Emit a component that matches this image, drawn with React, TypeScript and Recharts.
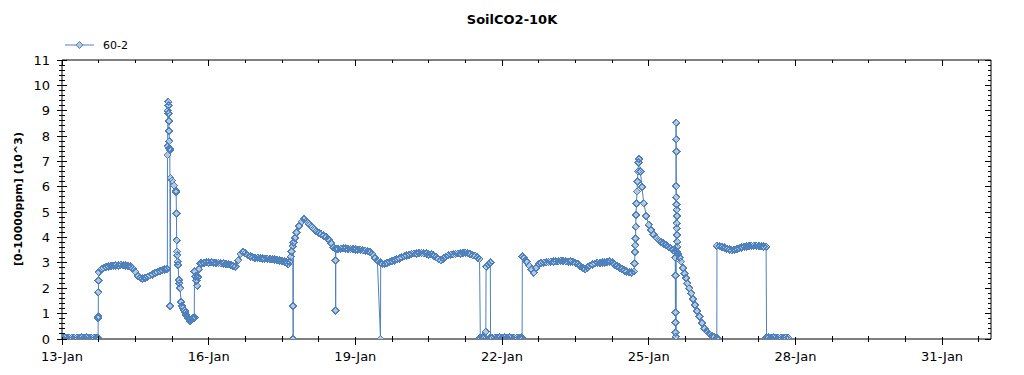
import { LineChart, Line, XAxis, YAxis } from "recharts";

// time axis: day offsets counted from 13-Jan 00:00; the logger samples every STEP day
const STEP = 0.05;

const seriesName = "60-2";
const chartTitle = "SoilCO2-10K";
const yTitle = "[0-10000ppm] (10^3)";
const dateLabels = ["13-Jan", "16-Jan", "19-Jan", "22-Jan", "25-Jan", "28-Jan", "31-Jan"];
const yLabels = ["0", "1", "2", "3", "4", "5", "6", "7", "8", "9", "10", "11"];

// regular runs: values every STEP starting at the given day
const offJan13 = [0.05, 0.05, 0.05, 0.05, 0.05, 0.05, 0.05, 0.05, 0.05, 0.05, 0.05, 0.05, 0.05, 0.05, 0.05];
const runJan13 = [
  2.75, 2.8, 2.83, 2.85, 2.87, 2.88, 2.9, 2.9, 2.92, 2.9, 2.9, 2.88, 2.85, 2.78, 2.65, 2.5, 2.42, 2.38, 2.4, 2.45,
  2.5, 2.55, 2.6, 2.64, 2.68, 2.71, 2.74, 2.76,
];
const runJan15 = [
  2.98, 3.0, 3.02, 3.02, 3.02, 3.0, 3.0, 3.0, 2.98, 2.98, 2.96, 2.95, 2.92, 2.88, 2.86, 3.1, 3.35, 3.42, 3.38, 3.3,
  3.25, 3.22, 3.2, 3.2, 3.18, 3.18, 3.17, 3.16, 3.15, 3.14, 3.13, 3.12, 3.1, 3.08, 3.05, 3.02,
];
const runJan18 = [3.55, 3.56, 3.57, 3.56, 3.55, 3.55, 3.54, 3.53, 3.52, 3.52, 3.5, 3.48, 3.46, 3.44, 3.35, 3.2, 3.08];
const runJan19 = [
  2.97, 2.96, 3.0, 3.04, 3.08, 3.1, 3.14, 3.18, 3.22, 3.26, 3.29, 3.32, 3.35, 3.37, 3.38, 3.39, 3.39, 3.38, 3.37, 3.33,
  3.34, 3.3, 3.22, 3.15, 3.1, 3.18, 3.25, 3.3, 3.32, 3.34, 3.35, 3.37, 3.38, 3.4, 3.4, 3.38, 3.35, 3.3, 3.28, 3.22,
];
const offJan21 = [0.05, 0.05, 0.05, 0.05, 0.05, 0.05, 0.05, 0.05, 0.05, 0.05, 0.05, 0.05, 0.05];
const runJan22 = [
  3.2, 3.05, 2.9, 2.75, 2.62, 2.8, 2.95, 3.0, 3.0, 3.02, 3.03, 3.05, 3.05, 3.06, 3.07, 3.08, 3.08, 3.07, 3.05, 3.06,
  3.05, 3.0, 2.95, 2.88, 2.8, 2.75, 2.82, 2.9, 2.95, 2.98, 3.0, 3.0, 3.02, 3.02, 3.03, 3.05, 3.02, 2.95, 2.88, 2.82,
  2.76, 2.7, 2.66, 2.63, 2.62,
];
const runJan26 = [3.66, 3.62, 3.6, 3.56, 3.52, 3.5, 3.52, 3.55, 3.58, 3.6, 3.64, 3.66, 3.66, 3.67, 3.68, 3.68, 3.67, 3.66, 3.65, 3.64];
const offJan27 = [0.05, 0.05, 0.05, 0.05, 0.05, 0.05, 0.05, 0.05, 0.05];

// irregular stretches: [day, value]
const rampJan13 = [[0.73, 0.05], [0.738, 0], [0.74, 0.83], [0.742, 0.9], [0.744, 1.85], [0.746, 2.3], [0.75, 2.64]];
const spikeJan15 = [
  [2.155, 2.75], [2.157, 7.25], [2.16, 7.6], [2.165, 9.0], [2.17, 9.36], [2.175, 9.2], [2.18, 8.9], [2.185, 8.6],
  [2.19, 8.2], [2.195, 7.8], [2.2, 7.5], [2.205, 7.45], [2.215, 1.3], [2.22, 6.35], [2.25, 6.25], [2.29, 6.05],
  [2.33, 5.85], [2.335, 5.8], [2.34, 4.95], [2.345, 3.9], [2.35, 3.45], [2.355, 3.3], [2.37, 3.05], [2.375, 2.92],
  [2.39, 2.33], [2.4, 2.2], [2.415, 2.0], [2.435, 1.45], [2.455, 1.3], [2.475, 1.2], [2.5, 1.12], [2.52, 1.05],
  [2.54, 0.95], [2.56, 0.88], [2.58, 0.82], [2.6, 0.76], [2.62, 0.7], [2.64, 0.75], [2.66, 0.8], [2.68, 0.82],
  [2.705, 0.85], [2.71, 2.65], [2.73, 2.46], [2.75, 2.3], [2.765, 2.1], [2.78, 2.45], [2.8, 2.75], [2.825, 2.98],
];
const peakJan17 = [
  [4.63, 2.95], [4.66, 3.05], [4.68, 3.25], [4.7, 3.45], [4.72, 3.65], [4.724, 1.31], [4.728, 0], [4.733, 3.8],
  [4.76, 3.98], [4.8, 4.2], [4.85, 4.45], [4.9, 4.62], [4.95, 4.72], [5.0, 4.65], [5.05, 4.55], [5.1, 4.45],
  [5.15, 4.35], [5.2, 4.25], [5.25, 4.18], [5.3, 4.12], [5.35, 4.07], [5.4, 4.02], [5.45, 3.93], [5.5, 3.78],
  [5.55, 3.62], [5.59, 3.56], [5.594, 3.1], [5.597, 1.12], [5.6, 3.55],
];
const dropJan19 = [[6.514, 0], [6.518, 3.02]];
const gapJan21 = [
  [8.54, 3.15], [8.556, 0.05], [8.6, 0.05], [8.64, 0.05], [8.668, 0.29], [8.673, 2.85], [8.72, 2.95], [8.76, 3.02],
  [8.765, 0.05],
];
const rampJan22 = [[9.41, 0], [9.415, 3.25]];
const spikeJan24 = [
  [11.7, 2.66], [11.71, 2.98], [11.72, 3.44], [11.725, 3.7], [11.73, 3.97], [11.735, 4.43], [11.74, 4.89],
  [11.75, 5.35], [11.76, 5.81], [11.77, 6.2], [11.78, 6.6], [11.79, 6.95], [11.8, 7.1], [11.83, 6.6], [11.86, 6.0],
  [11.9, 5.35], [11.95, 4.85], [12.0, 4.5], [12.05, 4.3], [12.1, 4.12], [12.15, 4.0], [12.2, 3.9], [12.25, 3.82],
  [12.3, 3.76], [12.35, 3.7], [12.4, 3.64], [12.45, 3.58], [12.5, 3.5], [12.54, 3.44],
];
const spikeJan25 = [
  [12.542, 3.2], [12.544, 2.5], [12.546, 1.05], [12.548, 0.66], [12.55, 0.25], [12.552, 0.09], [12.554, 3.5],
  [12.556, 0.1], [12.558, 8.53], [12.56, 7.87], [12.562, 7.39], [12.564, 6.03], [12.566, 5.59], [12.568, 5.31],
  [12.57, 5.09], [12.572, 4.85], [12.574, 4.56], [12.576, 4.36], [12.578, 4.1], [12.58, 3.84], [12.582, 3.64],
  [12.584, 3.44], [12.6, 3.35], [12.63, 3.2], [12.66, 3.05], [12.7, 2.8], [12.73, 2.59], [12.76, 2.4], [12.79, 2.2],
  [12.83, 2.0], [12.87, 1.8], [12.9, 1.58], [12.94, 1.34], [12.99, 1.1], [13.04, 0.88], [13.09, 0.64], [13.14, 0.42],
  [13.19, 0.3], [13.24, 0.2], [13.29, 0.12], [13.34, 0.08], [13.39, 0.05],
];
const rampJan26 = [[13.392, 0], [13.396, 3.68]];
const dropJan27 = [[14.41, 0.05]];

type Pt = { d: number; v: number };
const run = (start: number, values: number[]): Pt[] =>
  values.map((v, i) => ({ d: +(start + i * STEP).toFixed(3), v }));
const pairs = (list: number[][]): Pt[] => list.map(([d, v]) => ({ d, v }));

const points: Pt[] = [
  ...run(0, offJan13),
  ...pairs(rampJan13),
  ...run(0.8, runJan13),
  ...pairs(spikeJan15),
  ...run(2.85, runJan15),
  ...pairs(peakJan17),
  ...run(5.65, runJan18),
  ...pairs(dropJan19),
  ...run(6.55, runJan19),
  ...pairs(gapJan21),
  ...run(8.8, offJan21),
  ...pairs(rampJan22),
  ...run(9.45, runJan22),
  ...pairs(spikeJan24),
  ...pairs(spikeJan25),
  ...pairs(rampJan26),
  ...run(13.45, runJan26),
  ...pairs(dropJan27),
  ...run(14.45, offJan27),
];

const X_STEP = 0.75;
const xTicks = Array.from({ length: 26 }, (_, i) => i * X_STEP);
const yTicks = Array.from({ length: 56 }, (_, i) => +(i * 0.2).toFixed(1));

const FONT = "'DejaVu Sans', Verdana, sans-serif";
const BLUE = "#4f81bd";
const DIAMOND_FILL = "#b5c8dc";

const BottomTick = ({ x, y, payload }: any) => {
  const i = Math.round(payload.value / X_STEP);
  const major = i % 4 === 0;
  return (
    <g>
      <line x1={x} x2={x} y1={major ? y - 2 : y - 3} y2={major ? y + 6 : y + 3} stroke="#000" shapeRendering="crispEdges" />
      {major && (
        <text x={x} y={y + 22} textAnchor="middle" fontSize={13} fontFamily={FONT} fill="#000">
          {dateLabels[i / 4]}
        </text>
      )}
    </g>
  );
};

const TopTick = ({ x, y, payload }: any) => {
  const major = Math.round(payload.value / X_STEP) % 4 === 0;
  return <line x1={x} x2={x} y1={y} y2={major ? y + 6 : y + 3} stroke="#000" shapeRendering="crispEdges" />;
};

const LeftTick = ({ x, y, payload }: any) => {
  const i = Math.round(payload.value / 0.2);
  const major = i % 5 === 0;
  return (
    <g>
      <line x1={major ? x - 5 : x - 3} x2={major ? x + 5 : x + 3} y1={y} y2={y} stroke="#000" shapeRendering="crispEdges" />
      {major && (
        <text x={x - 12} y={y + 4.5} textAnchor="end" fontSize={13} fontFamily={FONT} fill="#000">
          {yLabels[i / 5]}
        </text>
      )}
    </g>
  );
};

const RightTick = ({ x, y, payload }: any) => {
  const major = Math.round(payload.value / 0.2) % 5 === 0;
  return <line x1={major ? x - 6 : x - 3} x2={x} y1={y} y2={y} stroke="#000" shapeRendering="crispEdges" />;
};

const diamondPath = (cx: number, cy: number, r: number) =>
  `M${cx},${cy - r}L${cx + r},${cy}L${cx},${cy + r}L${cx - r},${cy}Z`;

// markers are painted in two passes (fills, then outlines) so dense runs read as a solid band
const DiamondFill = (props: any) => {
  const { cx, cy, index } = props;
  if (cx == null || cy == null) return <g key={index} />;
  return <path key={index} d={diamondPath(cx, cy, 3.5)} fill={DIAMOND_FILL} stroke="none" shapeRendering="crispEdges" />;
};

const DiamondEdge = (props: any) => {
  const { cx, cy, index } = props;
  if (cx == null || cy == null) return <g key={index} />;
  return (
    <path key={index} d={diamondPath(cx, cy, 3.5)} fill="none" stroke={BLUE} strokeWidth={1.2} shapeRendering="crispEdges" />
  );
};

export default function App() {
  return (
    <div style={{ position: "relative", width: 1024, height: 375, background: "#fff" }}>
      <style>{"body{margin:0}"}</style>
      <LineChart width={1024} height={375} data={points} margin={{ top: 0, right: 0, bottom: 0, left: 0 }}>
        <XAxis
          dataKey="d"
          type="number"
          domain={[0, 19]}
          allowDataOverflow
          ticks={xTicks}
          interval={0}
          height={36}
          tickSize={0}
          tickMargin={0}
          tickLine={false}
          axisLine={{ stroke: "#000" }}
          tick={<BottomTick />}
        />
        <XAxis
          xAxisId="top"
          dataKey="d"
          orientation="top"
          type="number"
          domain={[0, 19]}
          allowDataOverflow
          ticks={xTicks}
          interval={0}
          height={60}
          tickSize={0}
          tickMargin={0}
          tickLine={false}
          axisLine={{ stroke: "#000" }}
          tick={<TopTick />}
        />
        <YAxis
          type="number"
          domain={[0, 11]}
          allowDataOverflow
          ticks={yTicks}
          interval={0}
          width={62}
          tickSize={0}
          tickMargin={0}
          tickLine={false}
          axisLine={{ stroke: "#000" }}
          tick={<LeftTick />}
        />
        <YAxis
          yAxisId="r"
          dataKey="v"
          orientation="right"
          type="number"
          domain={[0, 11]}
          allowDataOverflow
          ticks={yTicks}
          interval={0}
          width={33}
          tickSize={0}
          tickMargin={0}
          tickLine={false}
          axisLine={{ stroke: "#000" }}
          tick={<RightTick />}
        />
        <Line
          dataKey="v"
          name={seriesName}
          type="linear"
          stroke="none"
          dot={DiamondFill}
          activeDot={false}
          legendType="none"
          isAnimationActive={false}
        />
        <Line
          dataKey="v"
          name={seriesName}
          type="linear"
          stroke={BLUE}
          strokeWidth={1}
          dot={DiamondEdge}
          activeDot={false}
          isAnimationActive={false}
        />
      </LineChart>
      <svg width={1024} height={375} style={{ position: "absolute", left: 0, top: 0, pointerEvents: "none" }}>
        <text x={512} y={24} textAnchor="middle" fontSize={13} fontWeight="bold" fontFamily={FONT} fill="#000">
          {chartTitle}
        </text>
        <line x1={65} x2={94} y1={45} y2={45} stroke={BLUE} />
        <path d={diamondPath(79.5, 45, 3.5)} fill={DIAMOND_FILL} stroke={BLUE} />
        <text x={103} y={49} fontSize={11} fontFamily={FONT} fill="#000">
          {seriesName}
        </text>
        <text
          transform="translate(22,199) rotate(-90)"
          textAnchor="middle"
          fontSize={11}
          fontWeight="bold"
          fontFamily={FONT}
          fill="#000"
        >
          {yTitle}
        </text>
      </svg>
    </div>
  );
}
